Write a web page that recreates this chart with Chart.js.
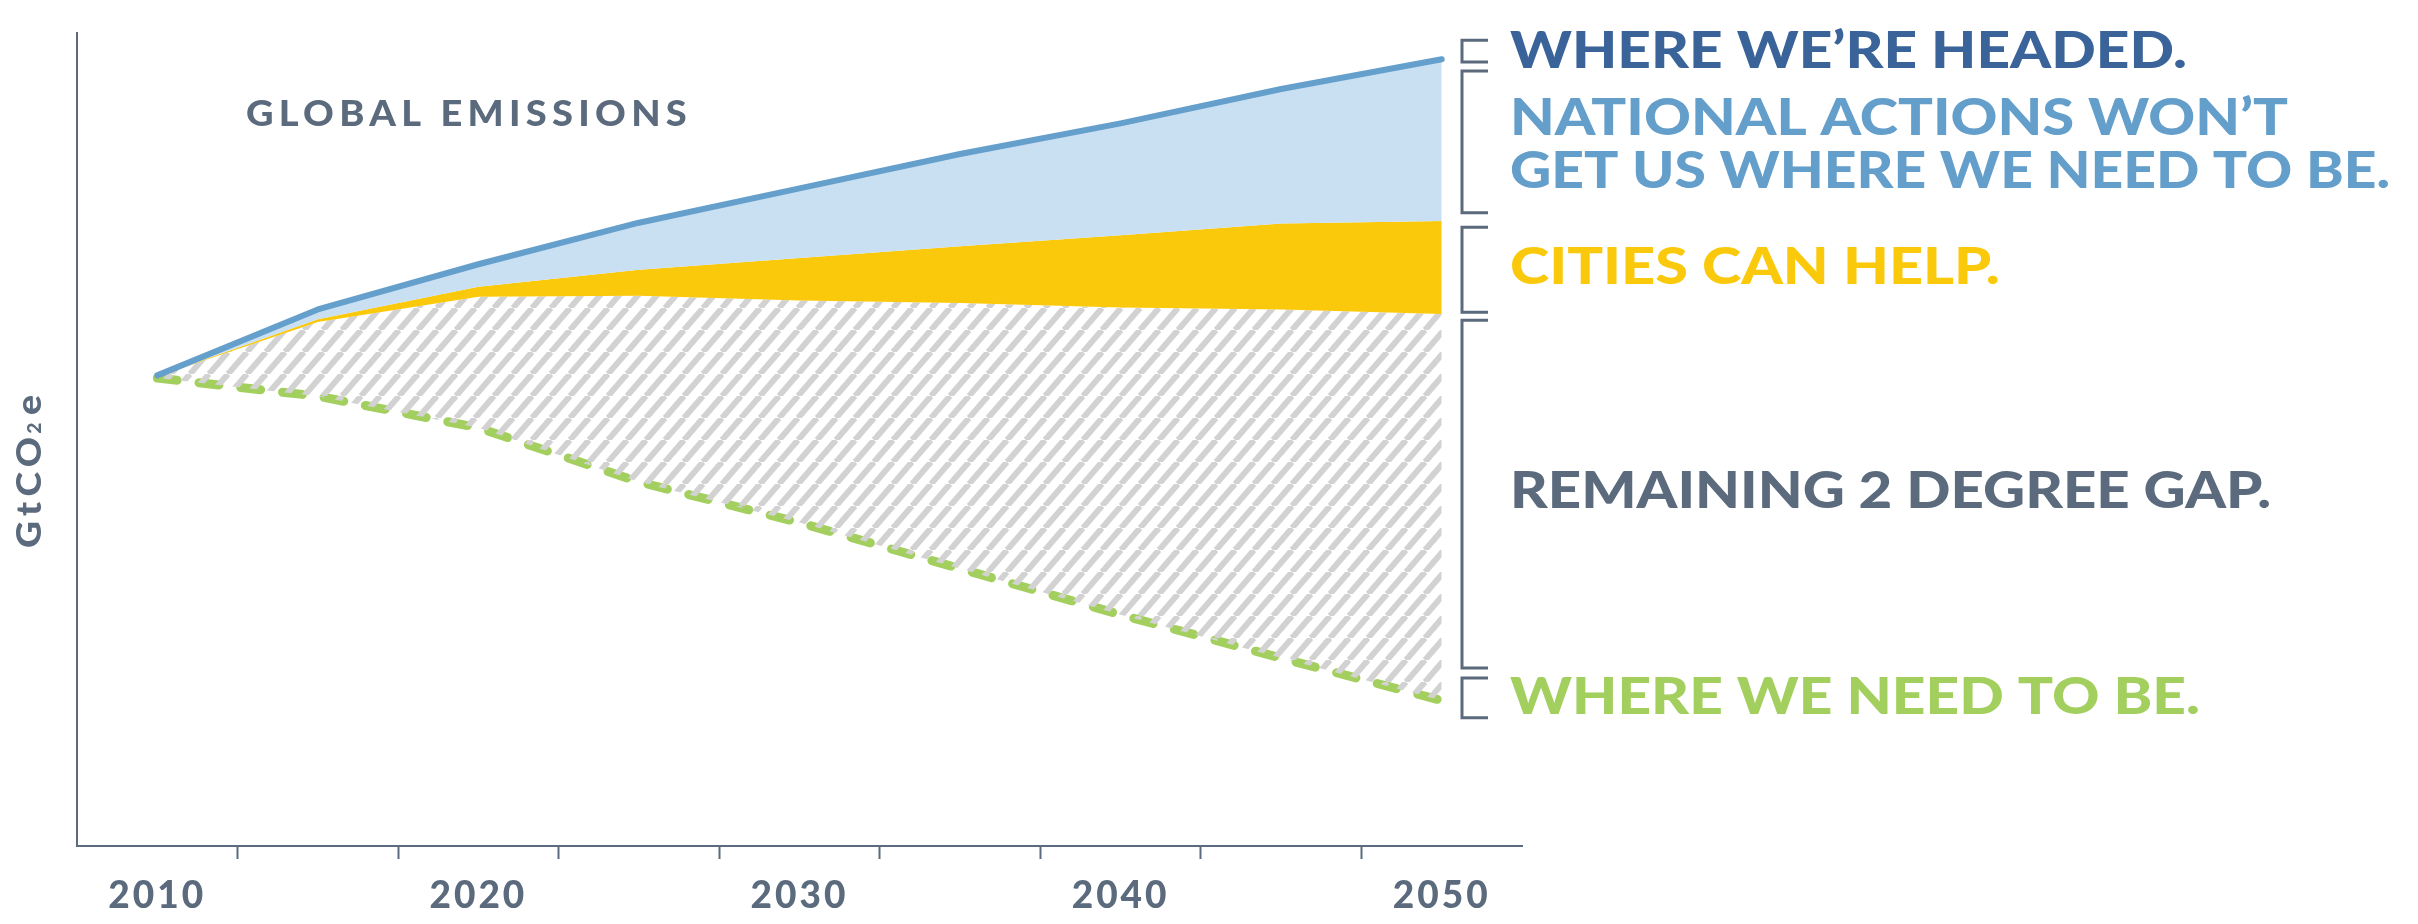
<!DOCTYPE html>
<html>
<head>
<meta charset="utf-8">
<title>Global emissions</title>
<script src="https://cdn.jsdelivr.net/npm/chart.js@4/dist/chart.umd.min.js"></script>
<style>
  body { margin: 0; background: #fff; }
  canvas { display: block; }
</style>
</head>
<body>
<canvas id="chart" width="2418" height="924"></canvas>
<script>
// data (GtCO2e, no axis values shown)
const years = ['2010', '2015', '2020', '2025', '2030', '2035', '2040', '2045', '2050'];
const shownYears = ['2010', '2020', '2030', '2040', '2050'];
const headedValues = [52.1, 59.4, 64.4, 69.0, 72.8, 76.6, 80.0, 83.8, 87.1];
const nationalValues = [52.0, 58.3, 61.9, 63.8, 65.1, 66.4, 67.6, 68.9, 69.2];
const citiesValues = [52.0, 58.0, 60.8, 60.9, 60.4, 60.1, 59.6, 59.4, 58.9];
const needValues = [51.8, 49.8, 46.3, 40.3, 35.8, 30.7, 25.6, 20.8, 16.1];
const calloutTexts = ['WHERE WE’RE HEADED.', 'NATIONAL ACTIONS WON’T', 'GET US WHERE WE NEED TO BE.', 'CITIES CAN HELP.', 'REMAINING 2 DEGREE GAP.', 'WHERE WE NEED TO BE.'];
const chartTitle = 'GLOBAL EMISSIONS';

const AXIS = '#5b6b7d';
const FONT = 'Lato, "Open Sans", sans-serif';

const calloutStyle = [
    { color: '#3a6499', y: 68, width: 677 },
    { color: '#649eca', y: 135, width: 778 },
    { color: '#649eca', y: 188, width: 880 },
    { color: '#fbc90b', y: 284, width: 490 },
    { color: AXIS, y: 508, width: 761 },
    { color: '#a3cf5e', y: 714, width: 690 }
];
// bracket ranges in data units
const bracketRanges = [[89.2, 86.8], [85.8, 70.1], [68.5, 59.1], [58.2, 19.7], [18.6, 14.2]];

function makeHatch(ctx) {
    const tile = document.createElement('canvas');
    tile.width = 19;
    tile.height = 22;
    const g = tile.getContext('2d');
    g.strokeStyle = '#d2d2d2';
    g.lineWidth = 6;
    for (const dx of [-19, 0, 19]) {
        g.beginPath();
        g.moveTo(dx, 22);
        g.lineTo(dx + 19, 0);
        g.stroke();
    }
    return ctx.createPattern(tile, 'repeat');
}

function drawFitted(ctx, text, x, y, width) {
    const w = ctx.measureText(text).width;
    ctx.save();
    ctx.translate(x, y);
    ctx.scale(width / w, 1);
    ctx.fillText(text, 0, 0);
    ctx.restore();
}

const annotations = {
    id: 'annotations',
    beforeDraw(chart) {
        chart.ctx.letterSpacing = '3px';
    },
    afterDraw(chart) {
        const ctx = chart.ctx;
        const yScale = chart.scales.y;
        ctx.save();
        ctx.textBaseline = 'alphabetic';
        ctx.textAlign = 'left';

        // title
        ctx.letterSpacing = '5px';
        ctx.font = `900 36px ${FONT}`;
        ctx.fillStyle = AXIS;
        drawFitted(ctx, chartTitle, 246, 126, 446);

        // y axis title GtCO2e
        ctx.save();
        ctx.translate(41, 548);
        ctx.rotate(-Math.PI / 2);
        ctx.letterSpacing = '5px';
        ctx.font = `900 35px ${FONT}`;
        const part1 = ctx.measureText('GtCO').width;
        ctx.font = `900 18px ${FONT}`;
        const part2 = ctx.measureText('2').width;
        ctx.font = `900 35px ${FONT}`;
        const part3 = ctx.measureText('e').width;
        ctx.scale(153 / (part1 + part2 + part3 - 5), 1);
        ctx.fillText('GtCO', 0, 0);
        ctx.font = `900 18px ${FONT}`;
        ctx.fillText('2', part1 - 2, 0);
        ctx.font = `900 35px ${FONT}`;
        ctx.fillText('e', part1 + part2, 0);
        ctx.restore();

        // brackets
        ctx.strokeStyle = AXIS;
        ctx.lineWidth = 3;
        bracketRanges.forEach(([top, bottom]) => {
            const y1 = yScale.getPixelForValue(top);
            const y2 = yScale.getPixelForValue(bottom);
            ctx.beginPath();
            ctx.moveTo(1488, y1);
            ctx.lineTo(1462, y1);
            ctx.lineTo(1462, y2);
            ctx.lineTo(1488, y2);
            ctx.stroke();
        });

        // callouts
        ctx.letterSpacing = '0px';
        ctx.font = `900 52px ${FONT}`;
        calloutTexts.forEach((text, i) => {
            const s = calloutStyle[i];
            ctx.fillStyle = s.color;
            drawFitted(ctx, text, 1510, s.y, s.width);
        });
        ctx.restore();
    }
};

const canvas = document.getElementById('chart');
const ctx = canvas.getContext('2d');

new Chart(ctx, {
    type: 'line',
    data: {
        labels: years,
        datasets: [
            {
                label: 'Where we’re headed',
                data: headedValues,
                borderColor: '#659fcc',
                borderWidth: 6,
                borderCapStyle: 'round',
                borderJoinStyle: 'round',
                backgroundColor: '#c9dff2',
                fill: '+1',
                pointRadius: 0,
                tension: 0
            },
            {
                label: 'National actions',
                data: nationalValues,
                borderWidth: 0,
                backgroundColor: '#fbc90b',
                fill: '+1',
                pointRadius: 0,
                tension: 0
            },
            {
                label: 'Cities can help',
                data: citiesValues,
                borderWidth: 0,
                backgroundColor: makeHatch(ctx),
                fill: '+1',
                pointRadius: 0,
                tension: 0
            },
            {
                label: 'Where we need to be',
                data: needValues,
                borderColor: '#a3cf5e',
                borderWidth: 9,
                borderDash: [20, 22],
                borderCapStyle: 'round',
                fill: false,
                pointRadius: 0,
                tension: 0
            }
        ]
    },
    options: {
        responsive: false,
        animation: false,
        devicePixelRatio: 1,
        layout: {
            padding: { left: 0, right: 896, top: 33, bottom: 0 }
        },
        plugins: {
            legend: { display: false },
            tooltip: { enabled: false }
        },
        scales: {
            x: {
                offset: true,
                afterFit: (scale) => { scale.height = 78; },
                grid: {
                    offset: true,
                    drawOnChartArea: false,
                    drawTicks: true,
                    tickLength: 13,
                    tickWidth: 2,
                    tickColor: (c) => (c.type === 'tick' && c.index > 0) ? AXIS : 'rgba(0,0,0,0)'
                },
                border: { display: true, color: AXIS, width: 2 },
                ticks: {
                    autoSkip: false,
                    maxRotation: 0,
                    padding: 15,
                    color: AXIS,
                    font: { family: FONT, size: 37, weight: '900' },
                    callback: function (value) {
                        const label = this.getLabelForValue(value);
                        return shownYears.includes(label) ? label : '';
                    }
                }
            },
            y: {
                min: 0,
                max: 90,
                afterFit: (scale) => { scale.width = 77; },
                grid: { display: false },
                border: { display: true, color: AXIS, width: 2 },
                ticks: { display: false }
            }
        }
    },
    plugins: [annotations]
});
</script>
</body>
</html>
